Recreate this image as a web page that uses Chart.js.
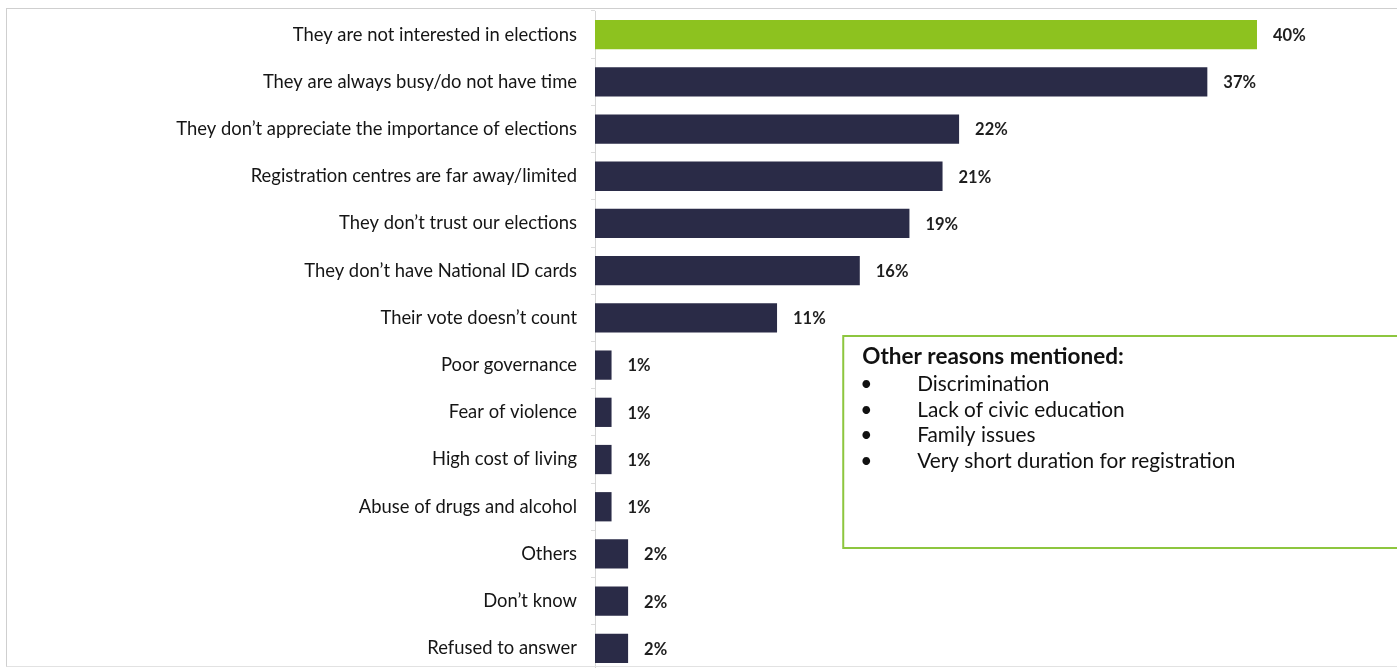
<!DOCTYPE html>
<html>
<head>
<meta charset="utf-8">
<title>Reasons for not registering to vote</title>
<script src="https://cdn.jsdelivr.net/npm/chart.js@4/dist/chart.umd.min.js"></script>
<style>
  html, body { margin: 0; padding: 0; background: #ffffff; overflow: hidden; }
  #wrap { position: relative; width: 1397px; height: 680px; }
  #chart { display: block; }
  #frame {
    position: absolute; left: 6px; top: 8px; width: 1400px; height: 657px;
    border-left: 1.5px solid #cfcfcf; border-top: 1.5px solid #cfcfcf; border-bottom: 1.5px solid #e2e2e2;
    pointer-events: none;
  }
</style>
</head>
<body>
<div id="wrap">
  <canvas id="chart" width="1397" height="680"></canvas>
  <div id="frame"></div>
</div>
<script>
// Survey responses: why people do not register to vote
const categories = [
  "They are not interested in elections",
  "They are always busy/do not have time",
  "They don\u2019t appreciate the importance of elections",
  "Registration centres are far away/limited",
  "They don\u2019t trust our elections",
  "They don\u2019t have National ID cards",
  "Their vote doesn\u2019t count",
  "Poor governance",
  "Fear of violence",
  "High cost of living",
  "Abuse of drugs and alcohol",
  "Others",
  "Don\u2019t know",
  "Refused to answer"
];
const shares = [40, 37, 22, 21, 19, 16, 11, 1, 1, 1, 1, 2, 2, 2];

const otherReasonsTitle = "Other reasons mentioned:";
const otherReasons = [
  "Discrimination",
  "Lack of civic education",
  "Family issues",
  "Very short duration for registration"
];

const GREEN = "#8dc21f";
const NAVY = "#2a2b47";
const LABEL_FONT = "Lato, 'Open Sans', sans-serif";

// Highlight the top answer in green, the rest in navy
const barColors = shares.map((v, i) => (i === 0 ? GREEN : NAVY));

// Percentage labels just past the end of each bar
const valueLabels = {
  id: "valueLabels",
  afterDatasetsDraw(chart) {
    const { ctx } = chart;
    const meta = chart.getDatasetMeta(0);
    ctx.save();
    ctx.font = "bold 16.5px " + LABEL_FONT;
    ctx.fillStyle = "#1e1e1e";
    ctx.textAlign = "left";
    ctx.textBaseline = "middle";
    meta.data.forEach((bar, i) => {
      ctx.fillText(shares[i] + "%", bar.x + 16, bar.y + 1);
    });
    ctx.restore();
  }
};

// Boxed note listing the other reasons given
const otherReasonsBox = {
  id: "otherReasonsBox",
  afterDraw(chart) {
    const { ctx } = chart;
    const x = chart.scales.x.getPixelForValue(15);
    const top = 336, bottom = 548;
    ctx.save();
    ctx.strokeStyle = "#8dc63f";
    ctx.lineWidth = 2;
    ctx.strokeRect(x, top, chart.width - x + 10, bottom - top);
    ctx.fillStyle = "#111111";
    ctx.textBaseline = "alphabetic";
    ctx.textAlign = "left";
    ctx.font = "bold 22.5px " + LABEL_FONT;
    ctx.fillText(otherReasonsTitle, x + 19, 364);
    ctx.font = "20.8px " + LABEL_FONT;
    otherReasons.forEach((item, i) => {
      const y = 391 + i * 25.7;
      ctx.fillText("\u2022", x + 17, y);
      ctx.fillText(item, x + 74, y);
    });
    ctx.restore();
  }
};

new Chart(document.getElementById("chart"), {
  type: "bar",
  data: {
    labels: categories,
    datasets: [{
      data: shares,
      backgroundColor: barColors,
      borderWidth: 0,
      barPercentage: 0.62,
      categoryPercentage: 1.0
    }]
  },
  options: {
    indexAxis: "y",
    responsive: false,
    animation: false,
    layout: { padding: { top: 11, bottom: 8, left: 0, right: 0 } },
    plugins: {
      legend: { display: false },
      tooltip: { enabled: false }
    },
    scales: {
      x: {
        display: false,
        min: 0,
        max: 48.46
      },
      y: {
        afterFit(scale) {
          scale.width = 595;
          scale.paddingTop = 0;
          scale.paddingBottom = 0;
        },
        border: { display: true, color: "#d6d6d6", width: 1 },
        grid: {
          drawOnChartArea: false,
          drawTicks: true,
          tickLength: 4,
          color: "#dcdcdc",
          offset: true
        },
        ticks: {
          padding: 14,
          color: "#151515",
          font: { family: LABEL_FONT, size: 18.4 }
        }
      }
    }
  },
  plugins: [valueLabels, otherReasonsBox]
});
</script>
</body>
</html>
